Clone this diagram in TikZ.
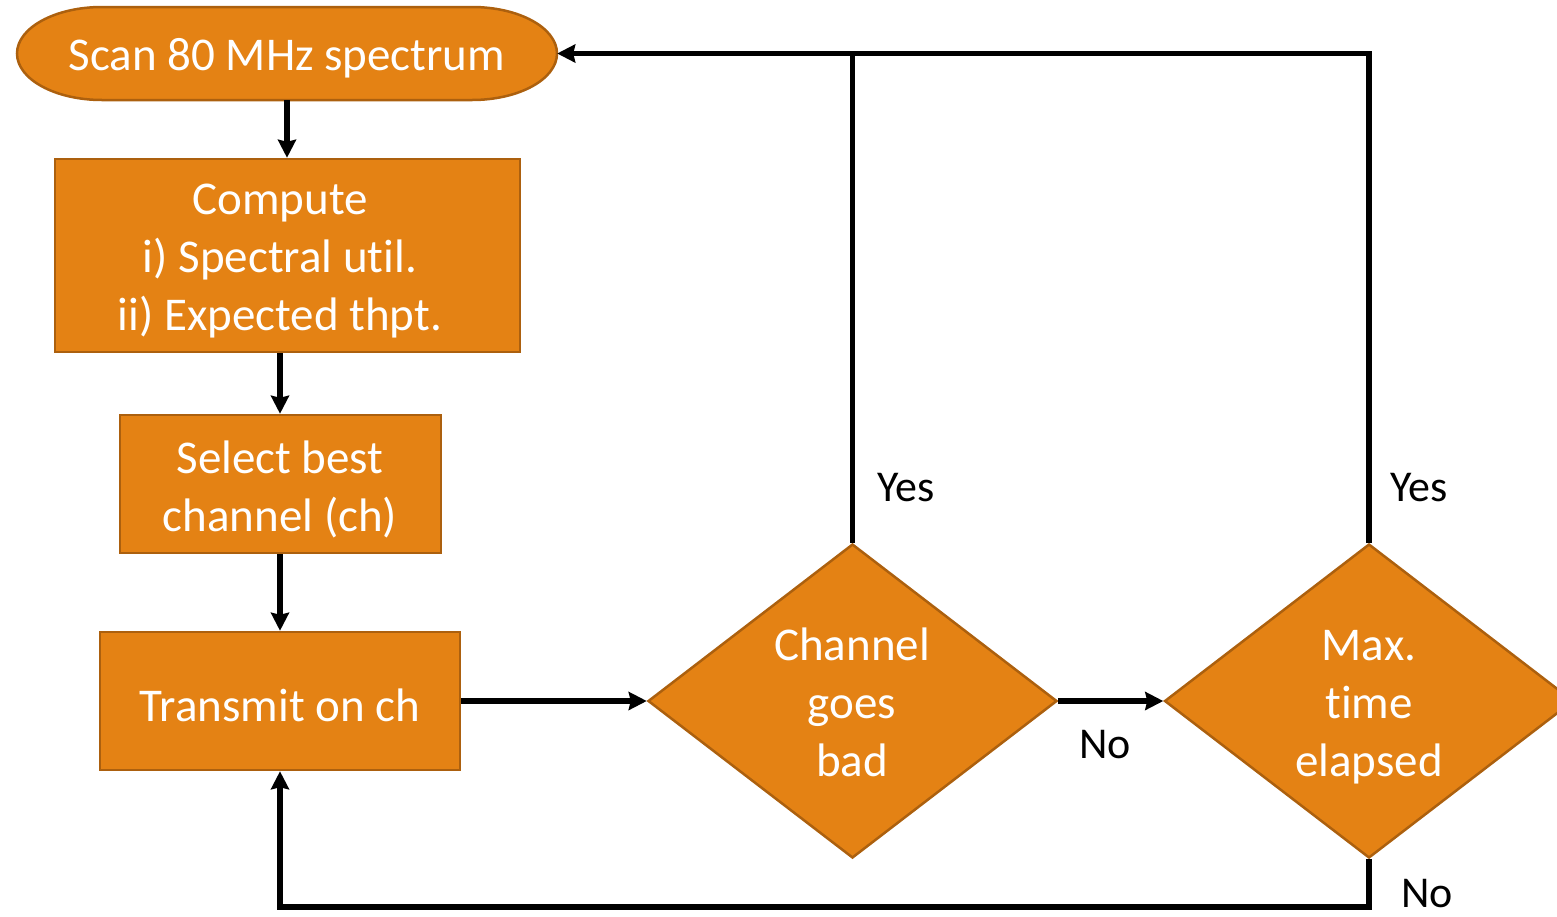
\documentclass[tikz,border=0pt]{standalone}
\usepackage{fontspec}
\setmainfont{Carlito}[RawFeature=-liga]
\usetikzlibrary{arrows.meta,shapes.geometric}
\definecolor{fillor}{RGB}{228,130,20}
\definecolor{edgeor}{RGB}{172,96,14}
\tikzset{
  box/.style={draw=edgeor, line width=2.5pt, fill=fillor, inner sep=0pt},
  dia/.style={diamond, draw=edgeor, line width=2.5pt, fill=fillor, inner sep=0pt, minimum width=409pt, minimum height=314pt},
  wtxt/.style={text=white, align=center, inner sep=0pt, font=\fontsize{47}{58}\selectfont},
  lbl/.style={text=black, inner sep=0pt, font=\fontsize{44}{52}\selectfont},
  conn/.style={line width=5.5pt, black},
  arr/.style={conn, -{Stealth[length=18pt,width=18pt,inset=2pt]}}
}
\begin{document}
\begin{tikzpicture}[x=1pt,y=1pt]
\useasboundingbox (0,0) rectangle (1557,-916);
% terminator
\draw[draw=edgeor, line width=2.5pt, fill=fillor] (102,-7) -- (472,-7)
  arc[start angle=90, end angle=-90, x radius=85, y radius=46.5] -- (102,-100)
  arc[start angle=270, end angle=90, x radius=85, y radius=46.5] -- cycle;
\node[minimum width=540pt, minimum height=93pt, inner sep=0pt] (start) at (287,-53.5) {};
\node[wtxt] (startT) at (287,-58) {Scan 80 MHz spectrum};
% boxes
\node[box, minimum width=465pt, minimum height=193pt] (comp) at (287.5,-255.5) {};
\node[wtxt] (compT) at (280,-261) {Compute\\i) Spectral util.\\ii) Expected thpt.};
\node[box, minimum width=321pt, minimum height=138pt] (sel) at (280.5,-484) {};
\node[wtxt] (selT) at (280,-489) {Select best\\channel (ch)};
\node[box, minimum width=360pt, minimum height=138pt] (tx) at (280,-701) {};
\node[wtxt] (txT) at (280,-705) {Transmit on ch};
% diamonds
\node[dia] (d1) at (852.5,-701) {};
\node[wtxt] (d1T) at (852,-702.5) {Channel\\goes\\bad};
\node[dia] (d2) at (1369,-701) {};
\node[wtxt] (d2T) at (1369,-707) {Max.\\time\\elapsed};
% labels
\node[lbl] (y1) at (906,-488) {Yes};
\node[lbl] (y2) at (1419,-488) {Yes};
\node[lbl] (n1) at (1105,-745) {No};
\node[lbl] (n2) at (1427,-894) {No};
% connectors
\coordinate (bl) at (1369,-907);
\draw[arr] (start.south) -- (comp.north -| start.south);
\draw[arr] (tx.north |- comp.south) -- (tx.north |- sel.north);
\draw[arr] (tx.north |- sel.south) -- (tx.north);
\draw[arr] (tx.east) -- (d1.west);
\draw[arr] (d1.east) -- (d2.west);
\draw[arr] (d1.north) |- (start.east);
\draw[conn] (d2.north) |- (d1.north |- start.east);
\draw[arr] (d2.south) -- (bl) -| (tx.south);
\end{tikzpicture}
\end{document}
